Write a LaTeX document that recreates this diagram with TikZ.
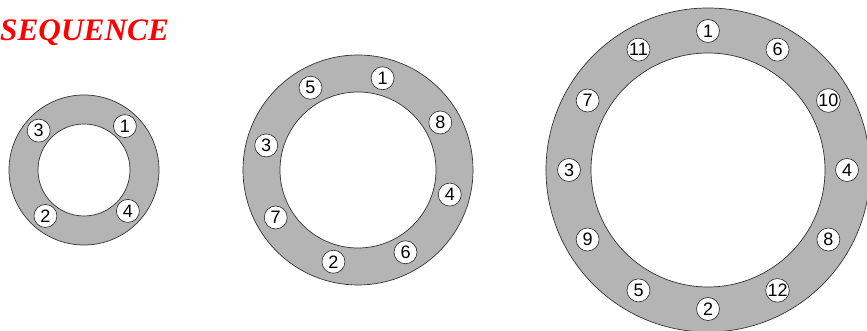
\documentclass[tikz,border=0pt]{standalone}
\usepackage{fontspec}
\setmainfont{Liberation Serif}
\newfontfamily\numfont{Liberation Sans}
\definecolor{ringgray}{RGB}{180,180,180}
\definecolor{titlered}{RGB}{255,0,0}
\begin{document}
\begin{tikzpicture}[x=1pt,y=1pt,
  ringfill/.style={fill=ringgray, even odd rule},
  ringline/.style={draw=black!80, line width=0.7pt},
  num/.style={circle, draw=black!85, fill=white, line width=0.6pt, minimum size=23pt, inner sep=0pt, font=\numfont\fontsize{18}{18}\selectfont},
  titletext/.style={anchor=base west, inner sep=0pt, text=titlered, font=\bfseries\itshape\fontsize{31.3}{31.3}\selectfont}]
\useasboundingbox (0,0) rectangle (867,331);
\coordinate (c1) at (84,161);
\coordinate (c2) at (358,161);
\coordinate (c3) at (708,161);
% rings
\fill[ringfill] (c1) circle (75) (c1) circle (46);
\draw[ringline] (c1) circle (75) (c1) circle (46);
\fill[ringfill] (c2) circle (115) (c2) circle (78);
\draw[ringline] (c2) circle (115) (c2) circle (78);
\fill[ringfill] (c3) circle (162) (c3) circle (117);
\draw[ringline] (c3) circle (162) (c3) circle (117);
% numbers ring 1
\foreach \n/\a in {1/47, 4/-43, 2/-130, 3/139}
  \node[num] (r1-\n) at ([shift={(\a:60)}]c1) {\n};
% numbers ring 2
\foreach \n/\a in {1/75, 8/30, 4/-15, 6/-60, 2/-105, 7/-150, 3/165, 5/120}
  \node[num] (r2-\n) at ([shift={(\a:95)}]c2) {\n};
% numbers ring 3
\foreach \n/\a in {1/90, 6/60, 10/30, 4/0, 8/-30, 12/-60, 2/-90, 5/-120, 9/-150, 3/180, 7/150, 11/120}
  \node[num] (r3-\n) at ([shift={(\a:139)}]c3) {\n};
\node[titletext] (title) at (0,290) {SEQUENCE};
\end{tikzpicture}
\end{document}
